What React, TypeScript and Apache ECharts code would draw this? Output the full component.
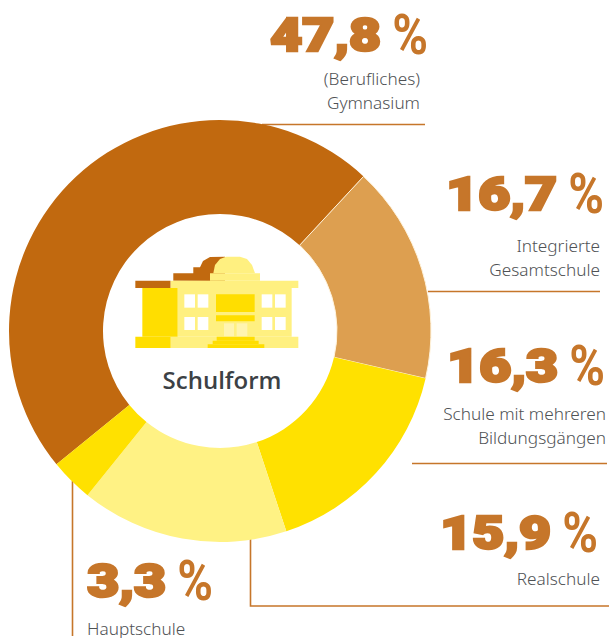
import React, { useEffect, useRef } from "react";
import * as echarts from "echarts";

const categories = ["(Berufliches)\nGymnasium", "Integrierte\nGesamtschule", "Schule mit mehreren\nBildungsgängen", "Realschule", "Hauptschule"];
const values = [47.8, 16.7, 16.3, 15.9, 3.3];
const valueLabels = ["47,8", "16,7", "16,3", "15,9", "3,3"];
const percentSign = "%";
const colors = ["#c1690f", "#dd9f50", "#ffe100", "#fff284", "#ffe100"];
const borderWidths = [0, 1, 0, 0, 0];
const centerTitle = "Schulform";

const BROWN = "#c1690f", YEL = "#ffde00", PALE = "#fff080", WHITE = "#ffffff", LINE = "#c6762a", DOOR = "#fff4b0";

const rz = (x0: number, y0: number, x1: number, y1: number, fill: string) => ({
  type: "rect",
  silent: true,
  shape: { x: 100 + x0 / 3, y: 230 + y0 / 3, width: (x1 - x0) / 3, height: (y1 - y0) / 3 },
  style: { fill },
});

const ln = (pts: number[][]) => ({
  type: "polyline",
  silent: true,
  shape: { points: pts },
  style: { stroke: LINE, lineWidth: 1.6, fill: "none" },
});

const numText = (s: string, x: number, y: number) => [
  {
    type: "text",
    silent: true,
    x: x - 47,
    y,
    scaleX: 1.2,
    style: { text: s, fontFamily: "Roboto", fontWeight: 900, fontSize: 46, fill: LINE, stroke: LINE, lineWidth: 2.6, textAlign: "right", textVerticalAlign: "middle" },
  },
  {
    type: "text",
    silent: true,
    x,
    y,
    scaleX: 0.88,
    style: { text: percentSign, fontFamily: "Roboto", fontWeight: 700, fontSize: 55, fill: LINE, textAlign: "right", textVerticalAlign: "middle" },
  },
];

const lblText = (s: string, x: number, y: number, align: string, lh = 24) => ({
  type: "text",
  silent: true,
  x,
  y,
  style: { text: s, fontFamily: "Noto Sans", fontWeight: 300, fontSize: 17.2, lineHeight: lh, fill: "#4f5255", textAlign: align, textVerticalAlign: "top" },
});

const icon = () => [
  { type: "polygon", silent: true, shape: { points: [[173.3, 280.7], [173.3, 273.3], [193.3, 273.3], [193.3, 267.3], [200, 267.3], [203, 261], [210, 257], [225, 256.7], [225, 281]] }, style: { fill: BROWN } },
  rz(106, 152, 212, 174, BROWN),
  rz(212, 152, 595, 174, PALE),
  rz(233, 174, 575, 320, PALE),
  rz(212, 320, 595, 354, PALE),
  rz(330, 130, 480, 152, PALE),
  { type: "polygon", silent: true, shape: { points: [[213.3, 273.3], [215, 265], [220, 259], [226, 256.7], [240, 256.7], [247, 259], [252, 265], [255, 273.3]] }, style: { fill: PALE } },
  rz(127, 174, 233, 320, YEL),
  rz(106, 320, 212, 354, YEL),
  rz(253, 193, 285, 233, WHITE),
  rz(293, 193, 325, 233, WHITE),
  rz(253, 261, 285, 300, WHITE),
  rz(293, 261, 325, 300, WHITE),
  rz(485, 193, 517, 233, WHITE),
  rz(525, 193, 557, 233, WHITE),
  rz(485, 261, 517, 300, WHITE),
  rz(525, 261, 557, 300, WHITE),
  rz(348, 193, 464, 246, YEL),
  rz(348, 256, 464, 274, YEL),
  rz(372, 280, 402, 320, DOOR),
  rz(410, 280, 442, 320, DOOR),
  rz(350, 320, 464, 332, YEL),
  rz(338, 332, 476, 343, YEL),
  rz(323, 343, 493, 354, YEL),
];

export default function App() {
  const ref = useRef<HTMLDivElement>(null);
  useEffect(() => {
    document.body.style.margin = "0";
    const chart = echarts.init(ref.current!, undefined, { renderer: "svg" });
    chart.setOption({
      animation: false,
      backgroundColor: "#ffffff",
      series: [
        {
          type: "pie",
          center: [220, 331],
          radius: [117, 211],
          startAngle: 219.2,
          clockwise: true,
          silent: true,
          label: { show: false },
          labelLine: { show: false },
          data: categories.map((name, i) => ({
            name,
            value: values[i],
            itemStyle: { color: colors[i], borderColor: "#fff3dc", borderWidth: borderWidths[i] },
          })),
        },
      ],
      graphic: [
        ln([[262, 124.5], [425, 124.5]]),
        ln([[428, 291.5], [600, 291.5]]),
        ln([[412, 463.5], [607, 463.5]]),
        ln([[250.5, 538], [250.5, 606], [609, 606]]),
        ln([[72.5, 481], [72.5, 636]]),
        ...numText(valueLabels[0], 428, 35),
        ...numText(valueLabels[1], 604, 194),
        ...numText(valueLabels[2], 605, 366),
        ...numText(valueLabels[3], 598, 533),
        ...numText(valueLabels[4], 213, 581),
        lblText(categories[0], 420, 66, "right"),
        lblText(categories[1], 600, 233, "right"),
        lblText(categories[2], 606, 401, "right"),
        lblText(categories[3], 600, 566, "right"),
        lblText(categories[4], 87, 618, "left", 20),
        ...icon(),
        { type: "text", silent: true, x: 222, y: 379, style: { text: centerTitle, fontFamily: "Open Sans", fontWeight: 600, fontSize: 24, fill: "#3c4145", textAlign: "center", textVerticalAlign: "middle" } },
      ],
    });
    return () => chart.dispose();
  }, []);
  return <div ref={ref} style={{ width: 609, height: 638 }} />;
}
